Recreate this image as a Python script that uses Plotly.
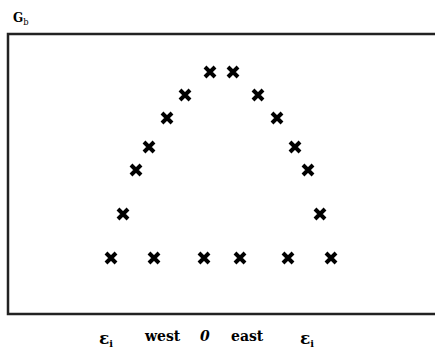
import plotly.graph_objects as go

# positions (px-like units across the frame) and heights of the "x" marks
x_vals = [202, 225, 177, 250, 159, 269, 141, 287, 128, 300, 115, 312,
          103, 146, 196, 232, 280, 323]
y_vals = [242, 242, 219, 219, 196, 196, 167, 167, 144, 144, 100, 100,
          56, 56, 56, 56, 56, 56]

bottom_labels = ["<span style='font-size:17px'>ε</span><sub>i</sub>", "west", "<i>0</i>", "east",
                 "<span style='font-size:17px'>ε</span><sub>i</sub>"]
bottom_label_x = [98, 154, 197, 239, 299]
title_text = "<b>G</b><sub>b</sub>"

fig = go.Figure()
fig.add_trace(go.Scatter(
    x=x_vals, y=y_vals, mode="markers",
    marker=dict(symbol="x-thin", size=10, line=dict(color="black", width=4), color="black"),
    showlegend=False, hoverinfo="skip"))

fig.update_xaxes(range=[0, 427], visible=False, fixedrange=True)
fig.update_yaxes(range=[0, 280], visible=False, fixedrange=True)

# frame: left, top, bottom (right side runs past the image edge)
fig.add_shape(type="path", xref="paper", yref="paper",
              path="M 1.2,1 L 0,1 L 0,0 L 1.2,0",
              line=dict(color="#222", width=2.5))

fig.add_annotation(text=title_text, xref="paper", yref="paper", x=0.0, y=1.0,
                   xanchor="left", yanchor="bottom", yshift=5, xshift=3, showarrow=False,
                   font=dict(family="DejaVu Serif", size=12, color="black"))

for t, xv in zip(bottom_labels, bottom_label_x):
    fig.add_annotation(text="<b>" + t + "</b>", x=xv, xref="x", y=0, yref="paper",
                       yanchor="top", yshift=-12, showarrow=False,
                       font=dict(family="DejaVu Serif", size=14, color="black"))

fig.update_layout(width=435, height=349,
                  margin=dict(l=8, r=0, t=34, b=35),
                  paper_bgcolor="white", plot_bgcolor="white")
fig.write_html("out.html", config={"displayModeBar": False},
               post_script="document.body.style.margin='0';document.body.style.overflow='hidden';")
